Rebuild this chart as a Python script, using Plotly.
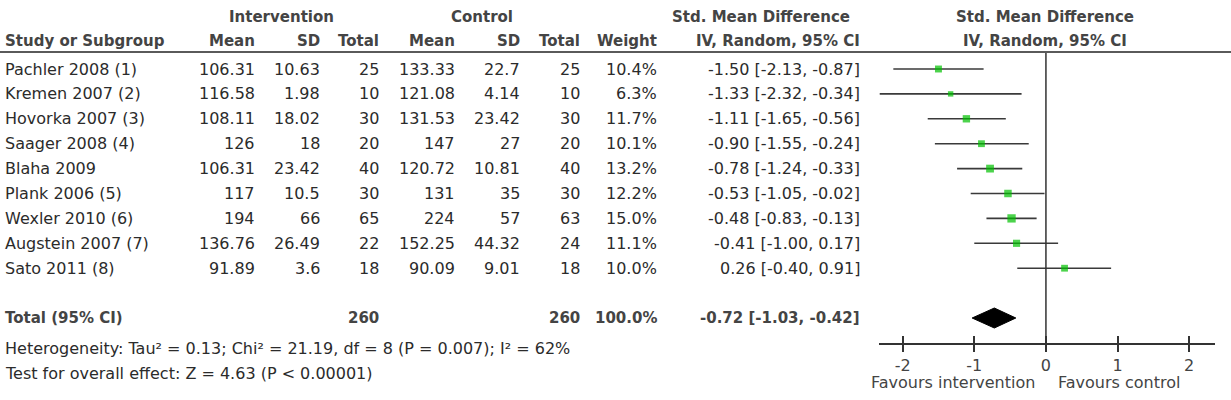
import plotly.graph_objects as go

# ---------------- data ----------------
studies = ["Pachler 2008 (1)", "Kremen 2007 (2)", "Hovorka 2007 (3)", "Saager 2008 (4)",
           "Blaha 2009", "Plank 2006 (5)", "Wexler 2010 (6)", "Augstein 2007 (7)", "Sato 2011 (8)"]
int_mean = [106.31, 116.58, 108.11, 126, 106.31, 117, 194, 136.76, 91.89]
int_sd = [10.63, 1.98, 18.02, 18, 23.42, 10.5, 66, 26.49, 3.6]
int_n = [25, 10, 30, 20, 40, 30, 65, 22, 18]
ctl_mean = [133.33, 121.08, 131.53, 147, 120.72, 131, 224, 152.25, 90.09]
ctl_sd = [22.7, 4.14, 23.42, 27, 10.81, 35, 57, 44.32, 9.01]
ctl_n = [25, 10, 30, 20, 40, 30, 63, 24, 18]
weight = [10.4, 6.3, 11.7, 10.1, 13.2, 12.2, 15.0, 11.1, 10.0]
smd = [-1.50, -1.33, -1.11, -0.90, -0.78, -0.53, -0.48, -0.41, 0.26]
ci_lo = [-2.13, -2.32, -1.65, -1.55, -1.24, -1.05, -0.83, -1.00, -0.40]
ci_hi = [-0.87, -0.34, -0.56, -0.24, -0.33, -0.02, -0.13, 0.17, 0.91]

total_int_n = 260
total_ctl_n = 260
total_weight = 100.0
total_smd = -0.72
total_lo = -1.03
total_hi = -0.42

heterogeneity = "Heterogeneity: Tau² = 0.13; Chi² = 21.19, df = 8 (P = 0.007); I² = 62%"
overall = "Test for overall effect: Z = 4.63 (P < 0.00001)"
tick_vals = [-2, -1, 0, 1, 2]
tick_text = ["-2", "-1", "0", "1", "2"]
favours_left = "Favours intervention"
favours_right = "Favours control"

# ---------------- layout helpers ----------------
W, H = 1231, 400
FONT = "DejaVu Sans"
BODY = "#2b2b2b"
HEAD = "#444444"
FS = 16
FSB = 15

ROW0, ROWSTEP = 69, 24.9
row_y = [ROW0 + i * ROWSTEP for i in range(len(studies))]
TOTAL_Y = 318
HET_Y = 348
TEST_Y = 373
AXIS_PX = 343
FAV_Y = 382
HEAD1_Y, HEAD2_Y, RULE_Y = 17, 41, 52

# column right edges (pixels)
col_right = {"im": 257, "isd": 322, "in": 381, "cm": 457, "csd": 522, "cn": 582,
             "w": 659, "ci": 862}

def px(x):
    return x / W

def py(y):
    return 1 - y / H

ann = []

def txt(x, y, s, anchor="left", bold=False, color=BODY, size=None):
    if size is None:
        size = FSB if bold else FS
    ann.append(dict(x=px(x), y=py(y), xref="paper", yref="paper", text=("<b>%s</b>" % s) if bold else s,
                    showarrow=False, xanchor=anchor, yanchor="middle",
                    font=dict(family=FONT, size=size, color=color)))

def fmt(v):
    return f"{v:g}"

# headers
txt(281, HEAD1_Y, "Intervention", "center", True, HEAD)
txt(482, HEAD1_Y, "Control", "center", True, HEAD)
txt(761, HEAD1_Y, "Std. Mean Difference", "center", True, HEAD)
txt(1045, HEAD1_Y, "Std. Mean Difference", "center", True, HEAD)
txt(3, HEAD2_Y, "Study or Subgroup", "left", True, HEAD)
for key, lab in [("im", "Mean"), ("isd", "SD"), ("in", "Total"), ("cm", "Mean"),
                 ("csd", "SD"), ("cn", "Total"), ("w", "Weight"), ("ci", "IV, Random, 95% CI")]:
    txt(col_right[key], HEAD2_Y, lab, "right", True, HEAD)
txt(1045, HEAD2_Y, "IV, Random, 95% CI", "center", True, HEAD)

# study rows
for i, s in enumerate(studies):
    y = row_y[i]
    txt(3, y, s)
    txt(col_right["im"], y, fmt(int_mean[i]), "right")
    txt(col_right["isd"], y, fmt(int_sd[i]), "right")
    txt(col_right["in"], y, str(int_n[i]), "right")
    txt(col_right["cm"], y, fmt(ctl_mean[i]), "right")
    txt(col_right["csd"], y, fmt(ctl_sd[i]), "right")
    txt(col_right["cn"], y, str(ctl_n[i]), "right")
    txt(col_right["w"], y, f"{weight[i]:.1f}%", "right")
    txt(col_right["ci"], y, f"{smd[i]:.2f} [{ci_lo[i]:.2f}, {ci_hi[i]:.2f}]", "right")

# total row
txt(3, TOTAL_Y, "Total (95% CI)", "left", True, HEAD)
txt(col_right["in"], TOTAL_Y, str(total_int_n), "right", True, HEAD)
txt(col_right["cn"], TOTAL_Y, str(total_ctl_n), "right", True, HEAD)
txt(col_right["w"], TOTAL_Y, f"{total_weight:.1f}%", "right", True, HEAD)
txt(col_right["ci"], TOTAL_Y, f"{total_smd:.2f} [{total_lo:.2f}, {total_hi:.2f}]", "right", True, HEAD)

txt(3, HET_Y, heterogeneity)
txt(3, TEST_Y, overall)

# favours labels (x in data units, y in paper units)
ann.append(dict(x=-1.3, y=py(FAV_Y), xref="x", yref="paper", text=favours_left, showarrow=False,
                xanchor="center", yanchor="middle", font=dict(family=FONT, size=FS, color=HEAD)))
ann.append(dict(x=1.02, y=py(FAV_Y), xref="x", yref="paper", text=favours_right, showarrow=False,
                xanchor="center", yanchor="middle", font=dict(family=FONT, size=FS, color=HEAD)))

# ---------------- forest traces ----------------
lx, ly = [], []
for i in range(len(studies)):
    lx += [ci_lo[i], ci_hi[i], None]
    ly += [row_y[i], row_y[i], None]

fig = go.Figure()
fig.add_trace(go.Scatter(x=lx, y=ly, mode="lines", line=dict(color="#3a3a3a", width=1.6),
                         hoverinfo="skip", showlegend=False))
fig.add_trace(go.Scatter(x=smd, y=row_y, mode="markers",
                         marker=dict(symbol="square", color="#00c000",
                                     size=[2.15 * w ** 0.5 for w in weight], line=dict(width=0)),
                         showlegend=False))
fig.add_trace(go.Scatter(x=[total_lo, total_smd, total_hi, total_smd, total_lo],
                         y=[TOTAL_Y, TOTAL_Y - 10, TOTAL_Y, TOTAL_Y + 10, TOTAL_Y],
                         mode="lines", fill="toself", fillcolor="black",
                         line=dict(color="black", width=1), showlegend=False))
# inside-tick helper trace on overlay axis
fig.add_trace(go.Scatter(x=[0], y=[AXIS_PX], xaxis="x2", mode="markers",
                         marker=dict(size=0, opacity=0), showlegend=False, hoverinfo="skip"))

dom = [879 / W, 1215 / W]
rng = [-2.33, 2.36]
fig.update_layout(
    width=W, height=H, margin=dict(l=0, r=0, t=0, b=0),
    paper_bgcolor="white", plot_bgcolor="rgba(0,0,0,0)",
    annotations=ann,
    xaxis=dict(domain=dom, range=rng, anchor="y", showgrid=False, zeroline=False,
               showline=True, linecolor="#333333", linewidth=1.5,
               ticks="outside", ticklen=7, tickwidth=1.5, tickcolor="#333333",
               tickvals=tick_vals, ticktext=tick_text,
               tickfont=dict(family=FONT, size=FS, color=HEAD)),
    xaxis2=dict(domain=dom, range=rng, anchor="y", overlaying="x", matches="x", showgrid=False,
                zeroline=False, showline=False, ticks="inside", ticklen=7, tickwidth=1.5,
                tickcolor="#333333", tickvals=tick_vals, showticklabels=False),
    yaxis=dict(domain=[(H - AXIS_PX) / H, 1], range=[AXIS_PX, 0], visible=False),
    shapes=[
        dict(type="line", xref="paper", yref="paper", x0=0, x1=1, y0=py(RULE_Y), y1=py(RULE_Y),
             line=dict(color="#5a5a5a", width=2)),
        dict(type="line", xref="x", yref="y", x0=0, x1=0, y0=RULE_Y + 1, y1=AXIS_PX,
             line=dict(color="#333333", width=1.5)),
    ],
)

fig.write_html("out.html")
